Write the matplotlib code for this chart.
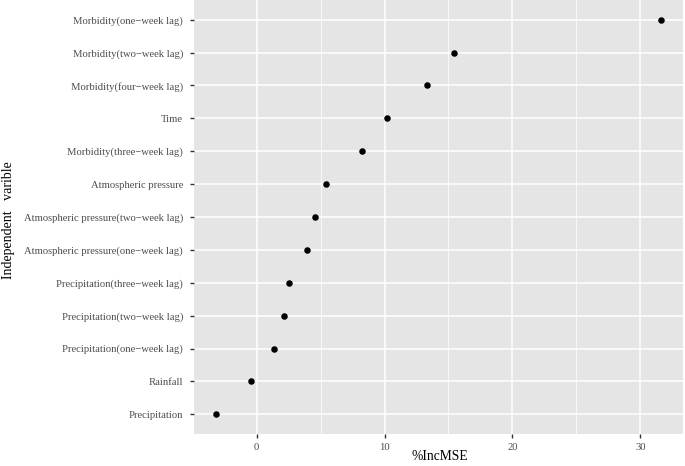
import matplotlib
matplotlib.use("Agg")
import matplotlib.pyplot as plt
from matplotlib.ticker import MultipleLocator

categories = [
    "Precipitation",
    "Rainfall",
    "Precipitation(one\u2212week lag)",
    "Precipitation(two\u2212week lag)",
    "Precipitation(three\u2212week lag)",
    "Atmospheric pressure(one\u2212week lag)",
    "Atmospheric pressure(two\u2212week lag)",
    "Atmospheric pressure",
    "Morbidity(three\u2212week lag)",
    "Time",
    "Morbidity(four\u2212week lag)",
    "Morbidity(two\u2212week lag)",
    "Morbidity(one\u2212week lag)",
]
inc_mse = [-3.16, -0.47, 1.35, 2.1, 2.5, 3.96, 4.55, 5.39, 8.25, 10.16, 13.3, 15.44, 31.6]
x_ticks = [0, 10, 20, 30]

plt.rcParams['font.family'] = ['Liberation Serif', 'DejaVu Serif']

W, H = 685, 466
fig = plt.figure(figsize=(W/100, H/100), dpi=100)
ax = fig.add_axes([194/W, 32/H, (683-194)/W, 434/H])
ax.set_facecolor('#E5E5E5')
for s in ax.spines.values():
    s.set_visible(False)

ypos = list(range(1, len(categories) + 1))
ax.scatter(inc_mse, ypos, s=22, color='black', zorder=3, linewidths=0)

ax.set_xlim(-4.9, 33.34)
ax.set_ylim(0.4, len(categories) + 0.6)
ax.set_xticks(x_ticks)
ax.xaxis.set_minor_locator(MultipleLocator(5))
ax.set_yticks(ypos)
ax.set_yticklabels(categories)

ax.grid(which='major', color='white', linewidth=1.1, zorder=1)
ax.grid(which='minor', axis='x', color='white', linewidth=0.55, zorder=1)
ax.set_axisbelow(True)

ax.tick_params(axis='both', which='major', length=3.0, width=1.0, color='#333333',
               labelcolor='#4D4D4D', labelsize=7.7, pad=5)
ax.tick_params(axis='x', which='major', pad=3.5)
ax.tick_params(axis='x', which='minor', length=0)

fig.text(440/W, 1 - 457/H, '%IncMSE', fontsize=9.8, color='black',
         ha='center', va='center')
fig.text(9/W, 1 - 220/H, 'Independent   varible', fontsize=10, color='black',
         ha='center', va='center', rotation=90)

fig.savefig('out.png', dpi=100, facecolor='white')
